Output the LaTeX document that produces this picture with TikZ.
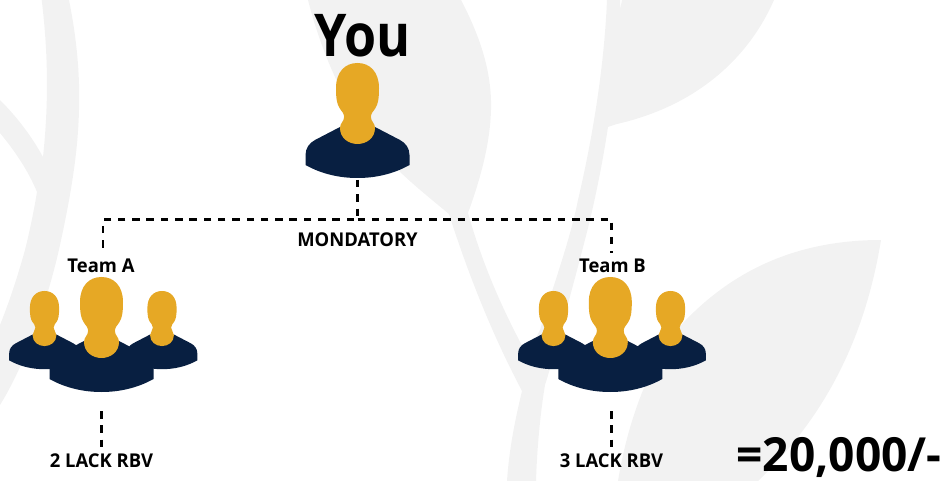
\documentclass[tikz,border=0pt]{standalone}
\usepackage{fontspec}
\setmainfont{Open Sans}[FakeStretch=0.88]
\newfontfamily\labfont{Open Sans}[FakeStretch=0.97]
\newfontfamily\totalfont{Open Sans}[FakeStretch=0.98]
\definecolor{leafgrey}{HTML}{F2F2F2}
\definecolor{headgold}{HTML}{E6A825}
\definecolor{bodynavy}{HTML}{081F41}
\tikzset{
  person/.pic={
    \fill[bodynavy] (-17.5,64) -- (-42.5,77) .. controls (-48,80) and (-52,85) .. (-52,92) -- (-52,102)
      .. controls (-36,111) and (-18,115) .. (0,115) .. controls (18,115) and (36,111) .. (52,102)
      -- (52,92) .. controls (52,85) and (48,80) .. (42.5,77) -- (17.5,64) -- cycle;
    \fill[headgold] (0,0) .. controls (12.5,0) and (21.5,9) .. (21.5,25) .. controls (21.5,36) and (20.5,41) .. (18,45)
      .. controls (16,48.5) and (13.4,50) .. (13.4,54) .. controls (13.4,58.5) and (17.5,60) .. (17.5,65)
      .. controls (17.5,75) and (9,81) .. (0,81) .. controls (-9,81) and (-17.5,75) .. (-17.5,65)
      .. controls (-17.5,60) and (-13.4,58.5) .. (-13.4,54) .. controls (-13.4,50) and (-16,48.5) .. (-18,45)
      .. controls (-20.5,41) and (-21.5,36) .. (-21.5,25) .. controls (-21.5,9) and (-12.5,0) .. (0,0) -- cycle;
  },
  dashline/.style={line width=2.6pt,dash pattern=on 7.5pt off 6.8pt},
  iconbox/.style={minimum width=104pt,minimum height=115pt,inner sep=0pt,outer sep=0pt,anchor=north},
  lab/.style={font=\labfont\bfseries\fontsize{19}{19}\selectfont,anchor=base,inner xsep=0pt,inner ysep=5.5pt,outer sep=0pt,text height=14pt,text depth=0pt},
}
\begin{document}
\begin{tikzpicture}[x=1pt,y=-1pt]
\useasboundingbox (0,0) rectangle (946,481);
\begin{scope}
\clip (0,0) rectangle (946,481);
% left stem and branch
\fill[leafgrey] (41.7,0) -- (69,0) .. controls (77,40) and (80,75) .. (79,110)
  .. controls (78,150) and (72,190) .. (60,245) .. controls (48,300) and (25,365) .. (0,405)
  -- (0,325) .. controls (10,300) and (18,275) .. (25,250) .. controls (30,230) and (34,210) .. (37,192)
  .. controls (28,170) and (14,150) .. (0,133) -- (0,100) .. controls (18,118) and (32,137) .. (43,157)
  .. controls (48,110) and (49,60) .. (41.7,0) -- cycle;
% central leaf with stem, top-right leaf and lower stem
\fill[leafgrey] (308,0) -- (461,0) .. controls (482,40) and (492,75) .. (491,110)
  .. controls (490,145) and (480,180) .. (468,213)
  .. controls (482,262) and (500,305) .. (527,355) -- (540,330)
  .. controls (555,280) and (570,240) .. (578,200) .. controls (592,140) and (604,70) .. (607,0)
  -- (620,0) -- (620,10) -- (622,0) -- (774,0)
  .. controls (750,55) and (700,105) .. (617,124) -- (608,127)
  .. controls (603,160) and (597,190) .. (590,220) .. controls (575,280) and (550,370) .. (545,385)
  .. controls (540,415) and (537,450) .. (536,481) -- (507,481)
  .. controls (509,450) and (515,420) .. (522,391)
  .. controls (495,340) and (470,280) .. (449,214)
  .. controls (420,190) and (395,170) .. (375,145) .. controls (345,105) and (322,55) .. (308,0) -- cycle;
% lower-right leaf
\fill[leafgrey] (881,240) .. controls (800,240) and (735,268) .. (683,323)
  .. controls (650,360) and (628,420) .. (618,481) -- (758,481)
  .. controls (800,440) and (860,370) .. (881,240) -- cycle;
\end{scope}
% icons
\node[iconbox] (iconYou) at (357.5,63) {};
\node[iconbox] (iconA) at (101.5,277) {};
\node[iconbox] (iconB) at (610.3,277) {};
\pic[scale=.68] at (44.5,291) {person};
\pic[scale=.68] at (162,291) {person};
\pic at (101.5,277) {person};
\pic[scale=.68] at (553.5,291) {person};
\pic[scale=.68] at (670.5,291) {person};
\pic at (610.3,277) {person};
\pic at (357.5,63) {person};
% texts
\node[font=\bfseries\fontsize{59}{59}\selectfont,anchor=base,inner sep=0pt] (you) at (363,56.5) {You};
\node[lab] (mand) at (357.5,247) {MONDATORY};
\node[lab] (teamA) at (101,272.5) {Team A};
\node[lab] (teamB) at (612.5,272.5) {Team B};
\node[lab] (rbvA) at (101.5,467) {2 LACK RBV};
\node[lab] (rbvB) at (611.5,467) {3 LACK RBV};
\node[font=\totalfont\bfseries\fontsize{47}{47}\selectfont,anchor=base,inner sep=0pt] (total) at (839,471.5) {=20,000/-};
% connectors
\coordinate (bus) at (357.5,219.5);
\draw[dashline,shorten <=2pt] (iconYou.south) -- (bus) -| ([xshift=2pt]teamA.north);
\draw[dashline] (bus) -| ([xshift=-.8pt]teamB.north);
\draw[dashline,shorten <=19pt] (iconA.south) -- (rbvA.north);
\draw[dashline,shorten <=19pt] (iconB.south -| rbvB.north) -- (rbvB.north);
\end{tikzpicture}
\end{document}
